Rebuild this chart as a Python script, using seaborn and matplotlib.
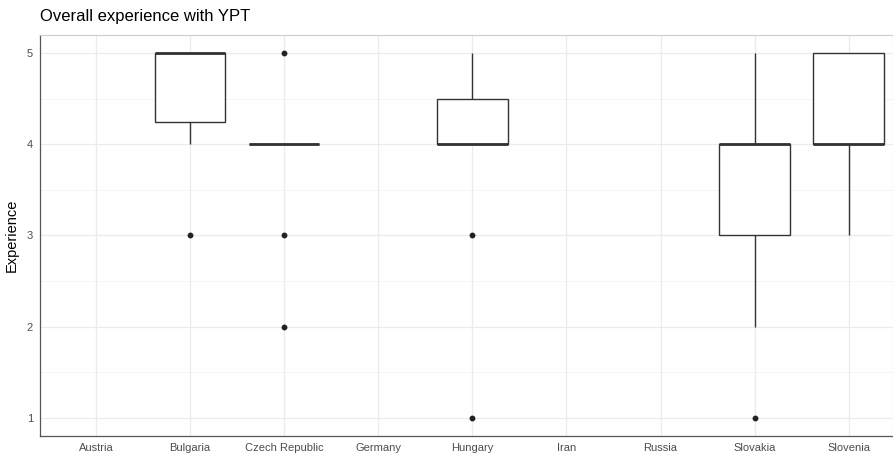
import numpy as np
import pandas as pd
import matplotlib
matplotlib.use("Agg")
import matplotlib.pyplot as plt
import seaborn as sns

countries = ["Austria", "Bulgaria", "Czech Republic", "Germany", "Hungary",
             "Iran", "Russia", "Slovakia", "Slovenia"]

# individual responses (empty = no answers)
bulgaria = [3, 4, 5, 5, 5, 5]
czech = [2, 3, 4, 4, 4, 4, 4, 4, 4, 5]
hungary = [1, 3, 4, 4, 4, 4, 4, 4, 5, 5, 5]
slovakia = [1, 2, 3, 3, 4, 4, 4, 4, 5]
slovenia = [3, 4, 4, 4, 4, 5, 5, 5]

answers = {"Bulgaria": bulgaria, "Czech Republic": czech, "Hungary": hungary,
           "Slovakia": slovakia, "Slovenia": slovenia}

rows = [(c, v) for c, vals in answers.items() for v in vals]
df = pd.DataFrame(rows, columns=["Country", "Experience"])
df["Country"] = pd.Categorical(df["Country"], categories=countries)

sns.set_style("white")
plt.rcParams["font.family"] = ["Liberation Sans", "DejaVu Sans"]

fig = plt.figure(figsize=(8.93, 4.54), dpi=100)
ax = fig.add_axes([40 / 893, 18 / 454, 853 / 893, 401 / 454])

sns.boxplot(data=df, x="Country", y="Experience", order=countries, ax=ax,
            width=0.75, color="white", linecolor="#333333", linewidth=1.0,
            whis=1.5, showcaps=False,
            medianprops=dict(color="#333333", linewidth=2.0),
            flierprops=dict(marker="o", markerfacecolor="#222222",
                            markeredgecolor="#222222", markersize=3.2))

ax.set_xlim(-0.595, 8.47)
ax.set_ylim(0.8, 5.2)
ax.set_yticks([1, 2, 3, 4, 5])
ax.set_yticks([1.5, 2.5, 3.5, 4.5], minor=True)

ax.grid(True, which="major", color="#EBEBEB", linewidth=0.9)
ax.grid(True, which="minor", axis="y", color="#F2F2F2", linewidth=0.5)
ax.set_axisbelow(True)

for side in ["left", "bottom"]:
    ax.spines[side].set_color("#555555")
    ax.spines[side].set_linewidth(0.9)
for side in ["top", "right"]:
    ax.spines[side].set_color("#CCCCCC")
    ax.spines[side].set_linewidth(0.8)

ax.tick_params(axis="both", which="major", length=3, width=0.8, color="#333333",
               labelsize=8, labelcolor="#4D4D4D", pad=2)
ax.tick_params(axis="y", which="minor", length=0)

ax.set_xlabel("")
ax.set_ylabel("Experience", fontsize=10.5, color="black", labelpad=6)
fig.text(40 / 893, 1 - 17 / 454, "Overall experience with YPT", fontsize=12,
         color="black", ha="left", va="center")

fig.savefig("out.png", dpi=100)
